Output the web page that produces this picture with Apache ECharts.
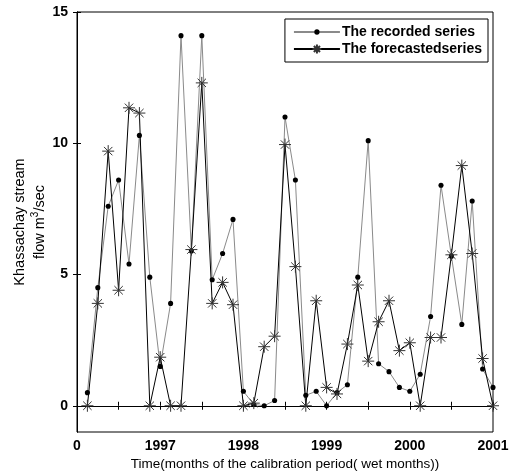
<!DOCTYPE html>
<html>
<head>
<meta charset="utf-8">
<script src="https://cdn.jsdelivr.net/npm/echarts@6/dist/echarts.min.js"></script>
<style>html,body{margin:0;padding:0;background:#fff}#c{width:512px;height:475px}</style>
</head>
<body>
<div id="c"></div>
<script>
var recorded = [0.5,4.5,7.6,8.6,5.4,10.3,4.9,1.5,3.9,14.1,5.9,14.1,4.8,5.8,7.1,0.55,0.05,0.0,0.2,11.0,8.6,0.4,0.55,0.0,0.5,0.8,4.9,10.1,1.6,1.3,0.7,0.55,1.2,3.4,8.4,5.7,3.1,7.8,1.4,0.7];
var forecasted = [0,3.9,9.7,4.4,11.35,11.15,0,1.85,0,0,5.95,12.3,3.9,4.7,3.85,0,0.1,2.25,2.65,9.95,5.3,0,4.0,0.7,0.45,2.35,4.6,1.7,3.2,4.0,2.1,2.4,0,2.6,2.6,5.75,9.15,5.8,1.8,0];
var xTickLabels = {0:'0',8:'1997',16:'1998',24:'1999',32:'2000',40:'2001'};
var yTickValues = [0,5,10,15];

function pairs(arr){ return arr.map(function(v,i){ return [i+1, v]; }); }
var FONT = 'Arial, "Liberation Sans", sans-serif';
var star = 'path://M0,-10L0,10M-10,0L10,0M-7,-7L7,7M-7,7L7,-7';
// small dot inside a larger invisible box so the legend dot stays small
var dot = 'path://M-5,-5L-5,-5M5,5L5,5M3,0A3,3 0 1 1 -3,0A3,3 0 1 1 3,0Z';

var chart = echarts.init(document.getElementById('c'), null, {renderer:'canvas'});
chart.setOption({
  animation:false,
  backgroundColor:'#fff',
  grid:{left:77,right:19,top:12,bottom:43,show:true,borderColor:'#000',borderWidth:1,backgroundColor:'transparent',
        containLabel:false, outerBoundsMode:'none'},
  legend:{
    right:24, top:19, orient:'vertical', itemWidth:46, itemHeight:11, itemGap:3,
    padding:[6,6,6,8], borderColor:'#000', borderWidth:1, backgroundColor:'#fff',
    textStyle:{fontFamily:FONT,fontWeight:'bold',fontSize:14,color:'#000',padding:[0,0,0,-3]},
    data:['The recorded series','The forecastedseries']
  },
  xAxis:[{
    type:'value', min:0, max:40, interval:4,
    axisLine:{show:true,lineStyle:{color:'#000',width:1}},
    axisTick:{show:true,inside:true,length:4,lineStyle:{color:'#000'}},
    splitLine:{show:false},
    axisLabel:{fontFamily:FONT,fontWeight:'bold',fontSize:14,color:'#000',margin:7,
      formatter:function(v){ return xTickLabels[v]!==undefined ? xTickLabels[v] : ''; }},
    name:'Time(months of the calibration period( wet months))',
    nameLocation:'middle', nameGap:25, nameMoveOverlap:false,
    nameTextStyle:{fontFamily:FONT,fontSize:13.5,color:'#000'}
  },{
    type:'value', min:0, max:40, interval:4, position:'top',
    axisLine:{show:true,lineStyle:{color:'#000'}},
    axisTick:{show:true,inside:true,length:4,lineStyle:{color:'#000'}},
    axisLabel:{show:false}, splitLine:{show:false}
  }],
  yAxis:[{
    type:'value', min:-1, max:15,
    axisLine:{show:true,lineStyle:{color:'#000'}},
    axisTick:{show:true,inside:true,length:4,customValues:yTickValues,lineStyle:{color:'#000'}},
    axisLabel:{fontFamily:FONT,fontWeight:'bold',fontSize:14,color:'#000',margin:9,customValues:yTickValues},
    splitLine:{show:false},
    name:'{a|Khassachay stream}\n{a|flow m}{s|3}{a|/sec}',
    nameLocation:'middle', nameRotate:90, nameGap:27, nameMoveOverlap:false,
    nameTextStyle:{fontFamily:FONT,fontSize:14.5,color:'#000',lineHeight:20,
      rich:{a:{fontFamily:FONT,fontSize:14.5,color:'#000',lineHeight:20},
            s:{fontFamily:FONT,fontSize:10,color:'#000',verticalAlign:'top',lineHeight:20,padding:[0,0,6,0]}}}
  },{
    type:'value', min:-1, max:15, position:'right',
    axisLine:{show:true,lineStyle:{color:'#000'}},
    axisTick:{show:true,inside:true,length:4,customValues:yTickValues,lineStyle:{color:'#000'}},
    axisLabel:{show:false}, splitLine:{show:false}
  }],
  series:[{
    name:'The recorded series', type:'line', data:pairs(recorded),
    symbol:dot, symbolSize:8.5, symbolKeepAspect:true,
    lineStyle:{color:'#8a8a8a',width:1},
    itemStyle:{color:'#000',borderWidth:0},
    z:2
  },{
    name:'The forecastedseries', type:'line', data:pairs(forecasted),
    symbol:star, symbolSize:12, symbolKeepAspect:true,
    lineStyle:{color:'#000',width:1},
    itemStyle:{color:'transparent',borderColor:'#333',borderWidth:1},
    z:3
  }]
});
</script>
</body>
</html>
